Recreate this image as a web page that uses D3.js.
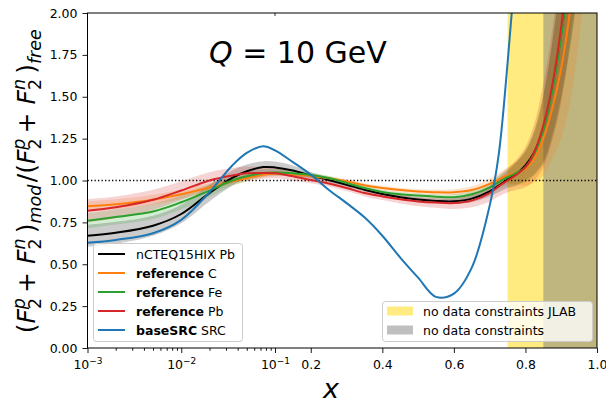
<!DOCTYPE html>
<html>
<head>
<meta charset="utf-8">
<script src="https://cdn.jsdelivr.net/npm/d3@7"></script>
<style>
    body { margin: 0; background: #fff; }
    text { font-family: "DejaVu Sans", sans-serif; }
</style>
</head>
<body>
<svg id="chart" width="606" height="404"></svg>
<script>
/** ------------- DATA -------------- */

const xs = [0.001, 0.002, 0.005, 0.01, 0.02, 0.035, 0.05, 0.075, 0.1, 0.15, 0.2, 0.25, 0.3, 0.35, 0.4, 0.45, 0.5,
    0.55, 0.6, 0.65, 0.7, 0.725, 0.75, 0.775, 0.8, 0.825, 0.85, 0.875, 0.9, 0.925, 0.95, 0.975, 1.0];

const nctPb = [0.670, 0.688, 0.730, 0.800, 0.925, 1.015, 1.055, 1.080, 1.078, 1.060, 1.030, 1.003, 0.975, 0.945,
    0.920, 0.900, 0.886, 0.878, 0.876, 0.892, 0.935, 0.970, 1.005, 1.040, 1.090, 1.170, 1.310, 1.550, 1.880, 2.30, 2.80, 3.40, 4.00];
const nctPbErr = [0.065, 0.065, 0.06, 0.055, 0.05, 0.045, 0.04, 0.035, 0.035, 0.03, 0.02, 0.015, 0.012, 0.012, 0.012,
    0.012, 0.012, 0.013, 0.015, 0.02, 0.03, 0.04, 0.05, 0.07, 0.09, 0.13, 0.2, 0.28, 0.38, 0.5, 0.6, 0.7, 0.8];

const refC = [0.846, 0.858, 0.885, 0.918, 0.958, 0.995, 1.013, 1.035, 1.040, 1.038, 1.027, 1.013, 0.995, 0.972,
    0.955, 0.943, 0.935, 0.930, 0.930, 0.943, 0.980, 1.005, 1.030, 1.045, 1.070, 1.130, 1.250, 1.430, 1.670, 2.02, 2.50, 3.10, 3.80];
const refCErr = [0.03, 0.03, 0.03, 0.028, 0.025, 0.022, 0.02, 0.018, 0.015, 0.013, 0.012, 0.012, 0.012, 0.012, 0.013,
    0.014, 0.015, 0.016, 0.018, 0.022, 0.03, 0.04, 0.05, 0.07, 0.1, 0.14, 0.22, 0.3, 0.42, 0.55, 0.65, 0.75, 0.85];

const refFe = [0.760, 0.782, 0.815, 0.870, 0.940, 1.000, 1.025, 1.045, 1.048, 1.043, 1.033, 1.015, 0.985, 0.955,
    0.932, 0.918, 0.910, 0.903, 0.900, 0.918, 0.958, 0.990, 1.020, 1.045, 1.080, 1.160, 1.300, 1.530, 1.860, 2.30, 2.80, 3.40, 4.00];
const refFeErr = [0.045, 0.045, 0.045, 0.042, 0.038, 0.032, 0.028, 0.022, 0.02, 0.018, 0.015, 0.013, 0.012, 0.012, 0.012,
    0.012, 0.013, 0.015, 0.018, 0.022, 0.03, 0.04, 0.05, 0.065, 0.09, 0.13, 0.2, 0.28, 0.38, 0.5, 0.6, 0.7, 0.8];

const refPb = [0.820, 0.840, 0.885, 0.940, 1.000, 1.030, 1.043, 1.045, 1.043, 1.025, 1.003, 0.982, 0.955, 0.925,
    0.905, 0.888, 0.875, 0.868, 0.865, 0.880, 0.925, 0.965, 1.000, 1.035, 1.080, 1.170, 1.330, 1.570, 1.920, 2.40, 2.90, 3.50, 4.10];
const refPbErr = [0.07, 0.065, 0.06, 0.055, 0.05, 0.045, 0.04, 0.035, 0.03, 0.025, 0.02, 0.018, 0.018, 0.02, 0.022,
    0.025, 0.028, 0.03, 0.035, 0.04, 0.05, 0.06, 0.07, 0.09, 0.12, 0.17, 0.25, 0.33, 0.45, 0.55, 0.65, 0.75, 0.85];

const baseSRC = [0.628, 0.645, 0.685, 0.765, 0.930, 1.090, 1.165, 1.205, 1.180, 1.110, 1.035, 0.945, 0.865, 0.780,
    0.670, 0.540, 0.420, 0.305, 0.325, 0.480, 0.850, 1.150, 1.700, 2.35, 3.0, 3.6, 4.2, 4.8, 5.4, 6.0, 6.6, 7.2, 7.8];

const yTicks = [0, 0.25, 0.5, 0.75, 1.0, 1.25, 1.5, 1.75, 2.0];
const logTicks = [0.001, 0.01, 0.1];
const linTicks = [0.2, 0.4, 0.6, 0.8, 1.0];
const jlabSpan = [0.75, 1.0];
const noDataSpan = [0.85, 1.0];

const legendBold = ["", "reference", "reference", "reference", "baseSRC"];
const legendRest = ["nCTEQ15HIX Pb", " C", " Fe", " Pb", " SRC"];
const spanLabels = ["no data constraints JLAB", "no data constraints"];

/** ------------- SCALES -------------- */

const pLeft = 87.5, pRight = 597, pTop = 13, pBottom = 348, pSplit = 275;

const svg = d3.select("#chart");
const xLog = d3.scaleLog().domain([0.001, 0.1]).range([pLeft, pSplit]);
const xLin = d3.scaleLinear().domain([0.1, 1.0]).range([pSplit, pRight]);
const xPos = (v) => (v <= 0.1 ? xLog(v) : xLin(v));
const y = d3.scaleLinear().domain([0, 2]).range([pBottom, pTop]);

svg.append("defs").append("clipPath").attr("id", "plotclip")
    .append("rect").attr("x", pLeft).attr("y", pTop).attr("width", pRight - pLeft).attr("height", pBottom - pTop);

const plot = svg.append("g").attr("clip-path", "url(#plotclip)");

/** shaded x ranges */
plot.append("rect")
    .attr("x", xPos(jlabSpan[0])).attr("y", pTop)
    .attr("width", xPos(jlabSpan[1]) - xPos(jlabSpan[0])).attr("height", pBottom - pTop)
    .attr("fill", "rgba(255,215,0,0.5)");
plot.append("rect")
    .attr("x", xPos(noDataSpan[0])).attr("y", pTop)
    .attr("width", xPos(noDataSpan[1]) - xPos(noDataSpan[0])).attr("height", pBottom - pTop)
    .attr("fill", "rgba(128,128,128,0.5)");

/** ------------- CURVES -------------- */

const series = [
    { vals: nctPb, err: nctPbErr, color: "#000000" },
    { vals: refC, err: refCErr, color: "#ff7f0e" },
    { vals: refFe, err: refFeErr, color: "#2ca02c" },
    { vals: refPb, err: refPbErr, color: "#d62728" },
    { vals: baseSRC, err: null, color: "#1f77b4" },
];

const curve = d3.curveCatmullRom.alpha(0.5);
const area = d3.area()
    .x((d) => xPos(d.x))
    .y0((d) => y(d.v - d.e))
    .y1((d) => y(d.v + d.e))
    .curve(curve);
const line = d3.line()
    .x((d) => xPos(d.x))
    .y((d) => y(d.v))
    .curve(curve);

series.forEach((s) => {
    if (!s.err) return;
    const pts = xs.map((x, i) => ({ x: x, v: s.vals[i], e: s.err[i] }));
    plot.append("path").attr("d", area(pts)).attr("fill", s.color).attr("fill-opacity", 0.2);
});

plot.append("line")
    .attr("x1", pLeft).attr("x2", pRight)
    .attr("y1", y(1)).attr("y2", y(1))
    .attr("stroke", "#000").attr("stroke-width", 1.3)
    .attr("stroke-dasharray", "1.3,2.2");

series.forEach((s) => {
    const pts = xs.map((x, i) => ({ x: x, v: s.vals[i] }));
    plot.append("path").attr("d", line(pts))
        .attr("fill", "none").attr("stroke", s.color).attr("stroke-width", 2);
});

/** ------------- AXES -------------- */

svg.append("g").attr("transform", `translate(${pLeft},0)`)
    .call(d3.axisLeft(y).tickValues(yTicks).tickFormat(d3.format(".2f")).tickSize(5).tickPadding(5));

const xAxisLog = svg.append("g").attr("transform", `translate(0,${pBottom})`)
    .call(d3.axisBottom(xLog).tickValues(logTicks).tickFormat(() => "").tickSize(5).tickPadding(7));

const minor = [];
[0.001, 0.01].forEach((d) => {
    for (let k = 2; k <= 9; k++) minor.push(d * k);
});
svg.append("g").attr("transform", `translate(0,${pBottom})`)
    .call(d3.axisBottom(xLog).tickValues(minor).tickFormat(() => "").tickSize(2.8));

xAxisLog.selectAll(".tick text").each(function (d) {
    const t = d3.select(this);
    t.append("tspan").text("10");
    t.append("tspan").attr("dy", -5).attr("font-size", 9).text("\u2212" + Math.round(-Math.log10(d)));
});

svg.append("g").attr("transform", `translate(0,${pBottom})`)
    .call(d3.axisBottom(xLin).tickValues(linTicks).tickFormat(d3.format(".1f")).tickSize(5).tickPadding(7));

svg.selectAll(".tick text").attr("font-size", 12.5).attr("fill", "#000").attr("font-family", "DejaVu Sans");
svg.selectAll(".tick line").attr("stroke", "#000").attr("stroke-width", 0.9);
svg.selectAll(".domain").remove();

/** frame */
svg.append("rect")
    .attr("x", pLeft).attr("y", pTop)
    .attr("width", pRight - pLeft).attr("height", pBottom - pTop)
    .attr("fill", "none").attr("stroke", "#000").attr("stroke-width", 1);
svg.append("line")
    .attr("x1", pSplit).attr("x2", pSplit).attr("y1", pTop).attr("y2", pTop + 3)
    .attr("stroke", "#000").attr("stroke-width", 0.8);

/** ------------- TEXTS -------------- */

const title = svg.append("text").attr("x", 209).attr("y", 63).attr("font-size", 30);
title.append("tspan").attr("font-style", "italic").text("Q");
title.append("tspan").text(" = 10 GeV");

svg.append("text")
    .attr("x", 331).attr("y", 398)
    .attr("text-anchor", "middle")
    .attr("font-size", 27).attr("font-style", "italic")
    .text("x");

/** y label built from pieces (F with stacked sub/superscripts) */
const fs = 25, small = 17.5;
const ylab = svg.append("text")
    .attr("transform", "translate(35,180) rotate(-90)")
    .attr("text-anchor", "middle")
    .attr("font-size", fs);

function addF(sup) {
    ylab.append("tspan").attr("font-style", "italic").text("F");
    ylab.append("tspan").attr("font-style", "italic").attr("font-size", small).attr("dy", -10).text(sup);
    ylab.append("tspan").attr("font-size", small).attr("dx", -11).attr("dy", 16).text("2");
    ylab.append("tspan").attr("dy", -6).text("\u2009");
}
function addSub(s) {
    ylab.append("tspan").attr("font-style", "italic").attr("font-size", small).attr("dy", 6).text(s);
    ylab.append("tspan").attr("dy", -6).text("\u200a");
}
ylab.append("tspan").text("(");
addF("p");
ylab.append("tspan").text("+ ");
addF("n");
ylab.append("tspan").text(")");
addSub("mod");
ylab.append("tspan").text("/(");
addF("p");
ylab.append("tspan").text("+ ");
addF("n");
ylab.append("tspan").text(")");
addSub("free");

/** ------------- LEGENDS -------------- */

const leg1 = svg.append("g");
leg1.append("rect")
    .attr("x", 93.5).attr("y", 243.5).attr("width", 149).attr("height", 98)
    .attr("rx", 3).attr("fill", "rgba(255,255,255,0.8)").attr("stroke", "#cccccc");
series.forEach((s, i) => {
    const ly = 254 + i * 19;
    leg1.append("line").attr("x1", 98).attr("x2", 125).attr("y1", ly).attr("y2", ly)
        .attr("stroke", s.color).attr("stroke-width", 2);
    const t = leg1.append("text").attr("x", 136).attr("y", ly + 4.5).attr("font-size", 12.5)
        .attr("xml:space", "preserve");
    if (legendBold[i]) t.append("tspan").attr("font-weight", "bold").text(legendBold[i]);
    t.append("tspan").text(legendRest[i]);
});

const leg2 = svg.append("g");
leg2.append("rect")
    .attr("x", 382.5).attr("y", 301.5).attr("width", 210).attr("height", 40)
    .attr("rx", 3).attr("fill", "rgba(255,255,255,0.8)").attr("stroke", "#cccccc");
const spanColors = ["rgba(255,215,0,0.5)", "rgba(128,128,128,0.5)"];
spanLabels.forEach((lab, i) => {
    const ly = 311 + i * 19;
    leg2.append("rect").attr("x", 387).attr("y", ly - 4.5).attr("width", 26).attr("height", 9)
        .attr("fill", spanColors[i]);
    leg2.append("text").attr("x", 423).attr("y", ly + 4.5).attr("font-size", 12.5).text(lab);
});
</script>
</body>
</html>
